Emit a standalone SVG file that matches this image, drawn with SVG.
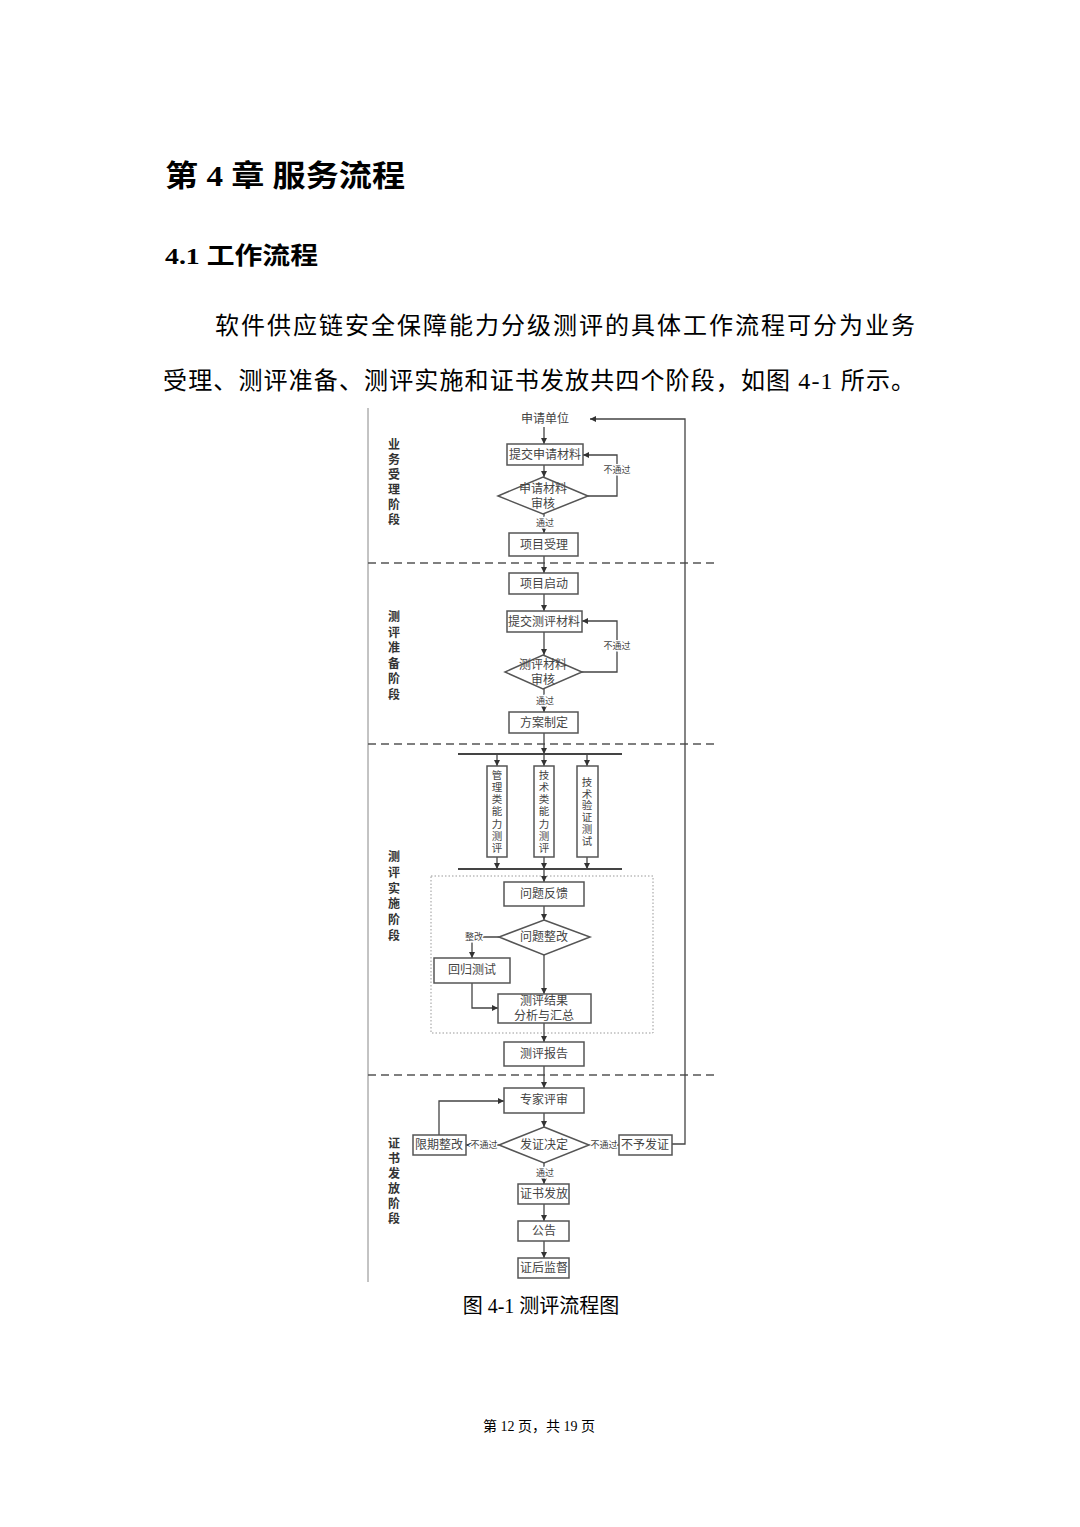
<svg xmlns="http://www.w3.org/2000/svg" width="1080" height="1527" viewBox="0 0 1080 1527">
<defs>
<style>
.pg{font-family:"Liberation Serif","Noto Sans CJK SC",serif;fill:#000}
.hd{font-family:"Liberation Serif","Noto Sans CJK SC",sans-serif;font-weight:bold;fill:#000}
.bx{fill:#fff;stroke:#555;stroke-width:1.5}
.t{font-family:"Liberation Serif","Noto Sans CJK SC",serif;font-size:12px;fill:#444;text-anchor:middle;dominant-baseline:central}
.vt{font-family:"Liberation Serif","Noto Sans CJK SC",serif;font-size:10.5px;fill:#444;text-anchor:middle;dominant-baseline:central}
.lb{font-family:"Liberation Serif","Noto Sans CJK SC",serif;font-size:9px;fill:#444;text-anchor:middle;dominant-baseline:central;stroke:#fff;stroke-width:3;paint-order:stroke}
.st{font-family:"Noto Sans CJK SC",sans-serif;font-size:12px;font-weight:bold;fill:#333;text-anchor:middle;dominant-baseline:central}
.ln{fill:none;stroke:#444;stroke-width:1.3}
.dash{stroke:#555;stroke-width:1.5;stroke-dasharray:8 5}
</style>
<marker id="ah" viewBox="0 0 10 10" refX="10" refY="5" markerWidth="6" markerHeight="6" orient="auto" markerUnits="userSpaceOnUse">
<path d="M0,0 L10,5 L0,10 z" fill="#333"/>
</marker>
</defs>
<rect width="1080" height="1527" fill="#fff"/>

<!-- page text -->
<text class="hd" x="165" y="186" font-size="30" textLength="240" lengthAdjust="spacingAndGlyphs">第 4 章 服务流程</text>
<text class="hd" x="165" y="264" font-size="24" textLength="153" lengthAdjust="spacingAndGlyphs">4.1  工作流程</text>
<text class="pg" x="215" y="334" font-size="24" textLength="700" lengthAdjust="spacing">软件供应链安全保障能力分级测评的具体工作流程可分为业务</text>
<text class="pg" x="163" y="389" font-size="24" textLength="752" lengthAdjust="spacing">受理、测评准备、测评实施和证书发放共四个阶段，如图 4-1 所示。</text>
<text class="pg" x="541" y="1313" font-size="20" text-anchor="middle">图 4-1  测评流程图</text>
<text class="pg" x="539" y="1431" font-size="14" text-anchor="middle">第 12 页，共 19 页</text>

<!-- frame lines -->
<g id="frame">
<line x1="368" y1="408" x2="368" y2="1282" stroke="#888" stroke-width="1"/>
<line class="dash" x1="368" y1="563" x2="715" y2="563"/>
<line class="dash" x1="368" y1="744" x2="715" y2="744"/>
<line class="dash" x1="368" y1="1075" x2="715" y2="1075"/>
<rect x="431" y="876" width="222" height="157" fill="none" stroke="#999" stroke-width="1" stroke-dasharray="1.5 2"/>
</g>

<!-- stage labels -->
<g id="stage1"><text class="st"><tspan x="394" y="443">业</tspan><tspan x="394" y="458">务</tspan><tspan x="394" y="473">受</tspan><tspan x="394" y="488">理</tspan><tspan x="394" y="503">阶</tspan><tspan x="394" y="518">段</tspan></text></g>
<g id="stage2"><text class="st"><tspan x="394" y="615">测</tspan><tspan x="394" y="631">评</tspan><tspan x="394" y="646">准</tspan><tspan x="394" y="662">备</tspan><tspan x="394" y="677">阶</tspan><tspan x="394" y="693">段</tspan></text></g>
<g id="stage3"><text class="st"><tspan x="394" y="855">测</tspan><tspan x="394" y="871">评</tspan><tspan x="394" y="887">实</tspan><tspan x="394" y="902">施</tspan><tspan x="394" y="918">阶</tspan><tspan x="394" y="934">段</tspan></text></g>
<g id="stage4"><text class="st"><tspan x="394" y="1142">证</tspan><tspan x="394" y="1157">书</tspan><tspan x="394" y="1172">发</tspan><tspan x="394" y="1187">放</tspan><tspan x="394" y="1202">阶</tspan><tspan x="394" y="1217">段</tspan></text></g>

<!-- connectors -->
<g id="connectors" class="ln">
<path d="M544,427 V444" marker-end="url(#ah)"/>
<path d="M544,465 V477" marker-end="url(#ah)"/>
<path d="M588,496 H617 V455 H583" marker-end="url(#ah)"/>
<path d="M544,514 V533" marker-end="url(#ah)"/>
<path d="M544,556 V573" marker-end="url(#ah)"/>
<path d="M544,594 V611" marker-end="url(#ah)"/>
<path d="M544,632 V655" marker-end="url(#ah)"/>
<path d="M582,672 H617 V621 H582" marker-end="url(#ah)"/>
<path d="M544,689 V712" marker-end="url(#ah)"/>
<path d="M544,733 V754" marker-end="url(#ah)"/>
<path d="M458,754 H622" stroke-width="1.8"/>
<path d="M497,754 V766" marker-end="url(#ah)"/>
<path d="M544,754 V766" marker-end="url(#ah)"/>
<path d="M587,754 V766" marker-end="url(#ah)"/>
<path d="M497,857 V869" marker-end="url(#ah)"/>
<path d="M544,857 V869" marker-end="url(#ah)"/>
<path d="M587,857 V869" marker-end="url(#ah)"/>
<path d="M458,869 H622" stroke-width="1.8"/>
<path d="M544,869 V882" marker-end="url(#ah)"/>
<path d="M544,906 V920" marker-end="url(#ah)"/>
<path d="M499,937 H472 V958" marker-end="url(#ah)"/>
<path d="M472,983 V1008 H498" marker-end="url(#ah)"/>
<path d="M544,955 V994" marker-end="url(#ah)"/>
<path d="M544,1023 V1042" marker-end="url(#ah)"/>
<path d="M544,1066 V1088" marker-end="url(#ah)"/>
<path d="M544,1113 V1127" marker-end="url(#ah)"/>
<path d="M499,1145 H466" marker-end="url(#ah)"/>
<path d="M439,1135 V1101 H504" marker-end="url(#ah)"/>
<path d="M589,1145 H619" marker-end="url(#ah)"/>
<path d="M672,1144 H685 V419 H590" marker-end="url(#ah)"/>
<path d="M544,1163 V1184" marker-end="url(#ah)"/>
<path d="M544,1204 V1221" marker-end="url(#ah)"/>
<path d="M544,1241 V1258" marker-end="url(#ah)"/>
</g>

<!-- connector labels -->
<g id="labels">
<text class="lb" x="617" y="470">不通过</text>
<text class="lb" x="545" y="523">通过</text>
<text class="lb" x="617" y="646">不通过</text>
<text class="lb" x="545" y="701">通过</text>
<text class="lb" x="474" y="937">整改</text>
<text class="lb" x="484" y="1145">不通过</text>
<text class="lb" x="604" y="1145">不通过</text>
<text class="lb" x="545" y="1173">通过</text>
</g>

<!-- nodes -->
<g id="n-applicant"><text class="t" x="545" y="419">申请单位</text></g>
<g id="n-submit1"><rect class="bx" x="507" y="444" width="76" height="21"/><text class="t" x="545" y="455">提交申请材料</text></g>
<g id="n-review1"><polygon class="bx" points="543,477 588,496 543,514 498,496"/><text class="t"><tspan x="543" y="489">申请材料</tspan><tspan x="543" y="504">审核</tspan></text></g>
<g id="n-accept"><rect class="bx" x="509" y="533" width="69" height="23"/><text class="t" x="544" y="545">项目受理</text></g>
<g id="n-start"><rect class="bx" x="509" y="573" width="69" height="21"/><text class="t" x="544" y="584">项目启动</text></g>
<g id="n-submit2"><rect class="bx" x="507" y="611" width="75" height="21"/><text class="t" x="544" y="622">提交测评材料</text></g>
<g id="n-review2"><polygon class="bx" points="543,655 582,672 543,689 505,672"/><text class="t"><tspan x="543" y="665">测评材料</tspan><tspan x="543" y="680">审核</tspan></text></g>
<g id="n-plan"><rect class="bx" x="509" y="712" width="69" height="21"/><text class="t" x="544" y="723">方案制定</text></g>
<g id="n-mgmt"><rect class="bx" x="487" y="766" width="20" height="91"/><text class="vt"><tspan x="497" y="775">管</tspan><tspan x="497" y="787">理</tspan><tspan x="497" y="799">类</tspan><tspan x="497" y="811">能</tspan><tspan x="497" y="824">力</tspan><tspan x="497" y="836">测</tspan><tspan x="497" y="848">评</tspan></text></g>
<g id="n-tech"><rect class="bx" x="534" y="766" width="20" height="91"/><text class="vt"><tspan x="544" y="775">技</tspan><tspan x="544" y="787">术</tspan><tspan x="544" y="799">类</tspan><tspan x="544" y="811">能</tspan><tspan x="544" y="824">力</tspan><tspan x="544" y="836">测</tspan><tspan x="544" y="848">评</tspan></text></g>
<g id="n-verify"><rect class="bx" x="577" y="766" width="21" height="91"/><text class="vt"><tspan x="587" y="782">技</tspan><tspan x="587" y="794">术</tspan><tspan x="587" y="805">验</tspan><tspan x="587" y="817">证</tspan><tspan x="587" y="829">测</tspan><tspan x="587" y="841">试</tspan></text></g>
<g id="n-feedback"><rect class="bx" x="504" y="882" width="80" height="24"/><text class="t" x="544" y="894">问题反馈</text></g>
<g id="n-fix"><polygon class="bx" points="544,920 590,937 544,955 499,937"/><text class="t" x="544" y="937">问题整改</text></g>
<g id="n-regress"><rect class="bx" x="434" y="958" width="76" height="25"/><text class="t" x="472" y="970">回归测试</text></g>
<g id="n-analysis"><rect class="bx" x="498" y="994" width="93" height="29"/><text class="t"><tspan x="544" y="1001">测评结果</tspan><tspan x="544" y="1016">分析与汇总</tspan></text></g>
<g id="n-report"><rect class="bx" x="504" y="1042" width="80" height="24"/><text class="t" x="544" y="1054">测评报告</text></g>
<g id="n-expert"><rect class="bx" x="504" y="1088" width="80" height="25"/><text class="t" x="544" y="1100">专家评审</text></g>
<g id="n-decide"><polygon class="bx" points="544,1127 589,1145 544,1163 499,1145"/><text class="t" x="544" y="1145">发证决定</text></g>
<g id="n-rectify"><rect class="bx" x="413" y="1135" width="53" height="20"/><text class="t" x="439" y="1145">限期整改</text></g>
<g id="n-refuse"><rect class="bx" x="619" y="1135" width="53" height="20"/><text class="t" x="645" y="1145">不予发证</text></g>
<g id="n-issue"><rect class="bx" x="518" y="1184" width="51" height="20"/><text class="t" x="544" y="1194">证书发放</text></g>
<g id="n-notice"><rect class="bx" x="518" y="1221" width="51" height="20"/><text class="t" x="544" y="1231">公告</text></g>
<g id="n-supervise"><rect class="bx" x="518" y="1258" width="51" height="20"/><text class="t" x="544" y="1268">证后监督</text></g>
</svg>
